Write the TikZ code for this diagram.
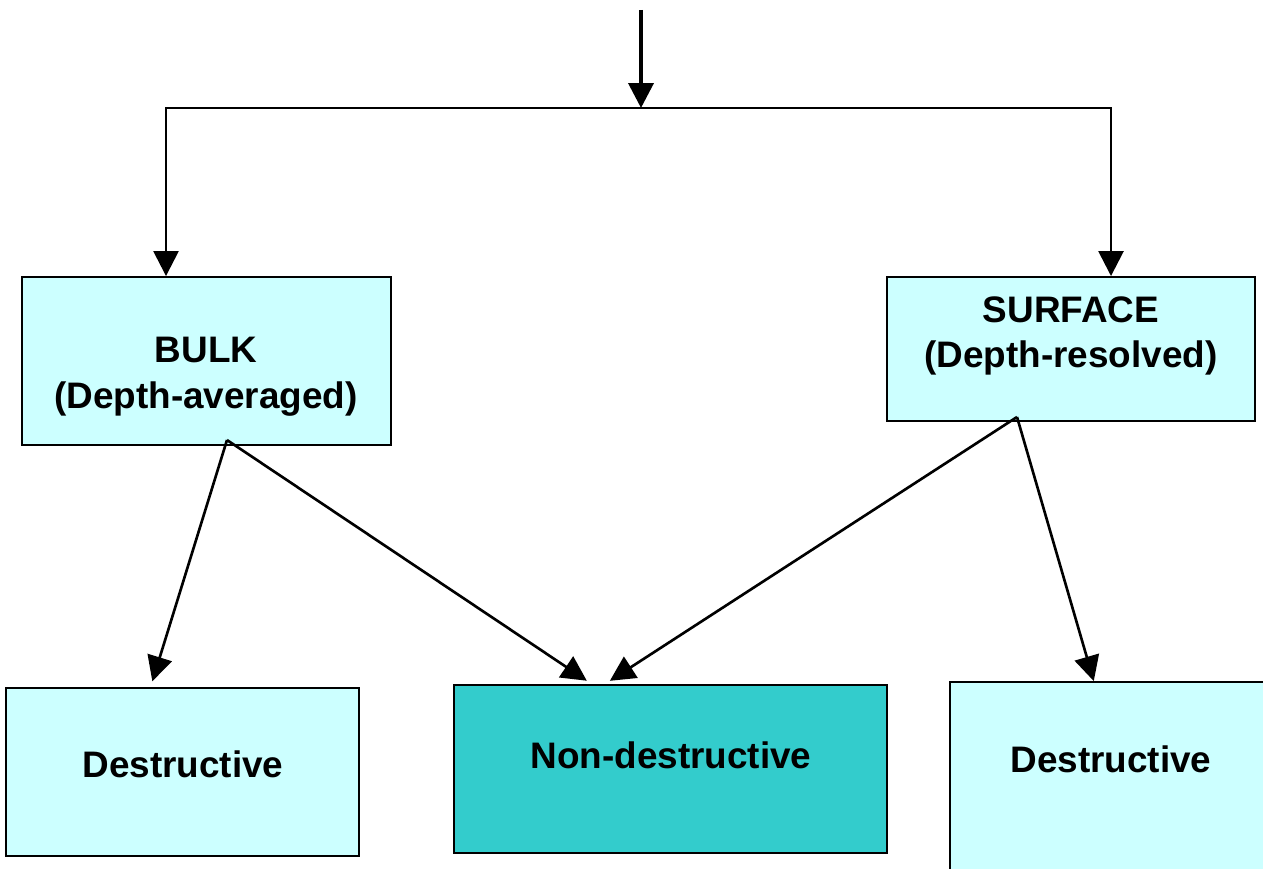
\documentclass[tikz,border=0pt]{standalone}
\usepackage{fontspec}
\setmainfont{Liberation Sans}
\usetikzlibrary{arrows.meta,calc}
\definecolor{lightcyan}{HTML}{CCFFFF}
\definecolor{tealbox}{HTML}{33CCCC}

\begin{document}
\begin{tikzpicture}[x=0.02cm, y=-0.02cm, line width=1.5pt,
		>={Triangle[width=0.5cm,length=0.5cm]},
		box/.style={draw, line width=1.1pt, inner sep=0pt},
		txt/.style={font=\bfseries\fontsize{21}{26}\selectfont, align=center, inner sep=0pt}]
		\path[use as bounding box, clip] (0,0) rectangle (1263,868);
		
		% Boxes
		\node[box, fill=lightcyan, minimum width=7.38cm, minimum height=3.36cm] (bulk) at (206.5,361) {};
		\node[box, fill=lightcyan, minimum width=7.36cm, minimum height=2.88cm] (surface) at (1071,349) {};
		\node[box, fill=lightcyan, minimum width=7.06cm, minimum height=3.36cm] (destrL) at (182.5,772) {};
		\node[box, fill=tealbox, minimum width=8.66cm, minimum height=3.36cm] (nondestr) at (670.5,769) {};
		\node[box, fill=lightcyan, minimum width=6.6cm, minimum height=4.36cm] (destrR) at (1115,791) {};
		
		% Texts
		\node[txt] (bulktxt) at (206,377) {BULK\\(Depth-averaged)};
		\node[txt] (surftxt) at (1071,336) {SURFACE\\(Depth-resolved)};
		\node[txt] (destrLtxt) at (183,764) {Destructive};
		\node[txt] (nondestrtxt) at (671,755) {Non-destructive};
		\node[txt] (destrRtxt) at (1111,759) {Destructive};
		
		% Junctions
		\coordinate (in) at (641,10);
		\coordinate (split) at (641,108);
		\coordinate (barL) at (166,108);
		\coordinate (barR) at (1111,108);
		\coordinate (bulkout) at (227,440);
		\coordinate (surfout) at (1017,417);
		
		% Lines
		\draw[->, line width=2.2pt] (in) -- (split);
		\draw[<->] (barL |- bulk.north) -- (barL) -- (barR) -- (barR |- surface.north);
		
		\draw[->, shorten >=0.12cm] (bulkout) -- ($(destrL.north west)!0.41!(destrL.north east)$);
		\draw[->, shorten >=0.12cm] (bulkout) -- ($(nondestr.north west)!0.319!(nondestr.north east)$);
		\draw[->, shorten >=0.12cm] (surfout) -- ($(nondestr.north west)!0.349!(nondestr.north east)$);
		\draw[->] (surfout) -- ($(destrR.north west)!0.436!(destrR.north east)$);
		
	\end{tikzpicture}
\end{document}
